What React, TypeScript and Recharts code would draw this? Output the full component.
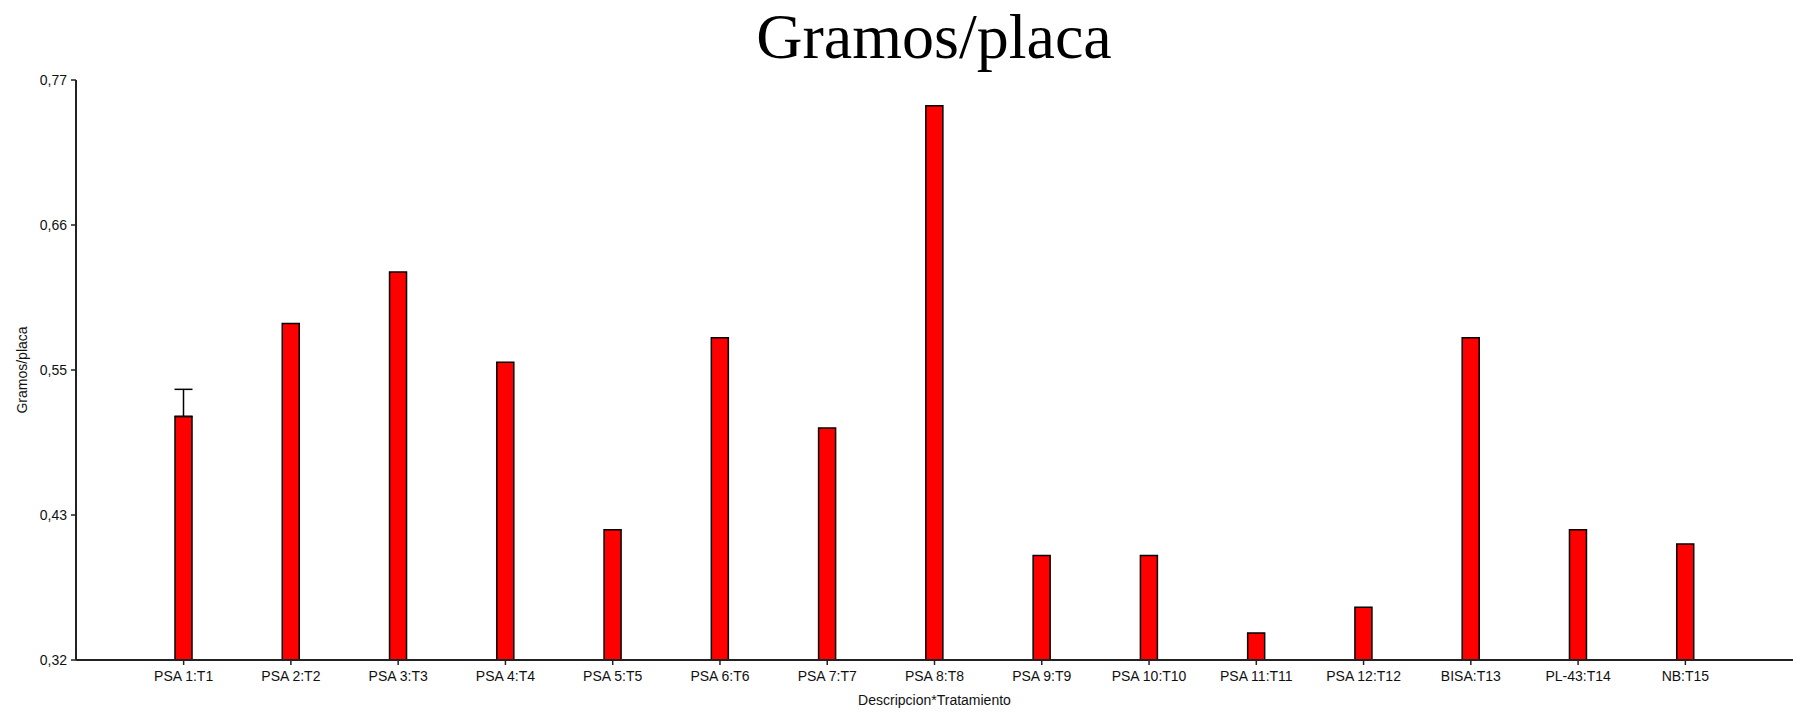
import React from 'react'
import { BarChart, Bar, XAxis, YAxis, ErrorBar } from 'recharts'

const categories = [
  'PSA 1:T1', 'PSA 2:T2', 'PSA 3:T3', 'PSA 4:T4', 'PSA 5:T5', 'PSA 6:T6', 'PSA 7:T7', 'PSA 8:T8',
  'PSA 9:T9', 'PSA 10:T10', 'PSA 11:T11', 'PSA 12:T12', 'BISA:T13', 'PL-43:T14', 'NB:T15',
]
const gramos = [0.509, 0.581, 0.621, 0.551, 0.421, 0.570, 0.500, 0.750, 0.401, 0.401, 0.341, 0.361, 0.570, 0.421, 0.410]
// only T1 has an error bar, drawn upward only
const errUp = [0.021, null, null, null, null, null, null, null, null, null, null, null, null, null, null]

const yTicks = [0.32, 0.4325, 0.545, 0.6575, 0.77]
const yTickLabels = ['0,32', '0,43', '0,55', '0,66', '0,77']

const data = categories.map((name, i) => ({
  name,
  value: gramos[i],
  err: errUp[i] == null ? null : [0, errUp[i]],
}))

const sans = 'Arial, "Liberation Sans", sans-serif'

export default function App() {
  return (
    <div style={{ position: 'relative', width: 1802, height: 714, background: '#fff' }}>
      <style>{'body{margin:0}'}</style>
      <svg width={1802} height={80} style={{ position: 'absolute', left: 0, top: 0 }}>
        <text x={934} y={58} textAnchor="middle" fontFamily='"Times New Roman", "Liberation Serif", serif' fontSize={64} fill="#000">
          Gramos/placa
        </text>
      </svg>
      <BarChart width={1802} height={714} data={data} margin={{ top: 80, right: 9, bottom: 0, left: 0 }}>
        <XAxis
          dataKey="name"
          height={54}
          padding={{ left: 54, right: 54 }}
          interval={0}
          axisLine={{ stroke: '#222', strokeWidth: 2 }}
          tickLine={{ stroke: '#222', strokeWidth: 1.5 }}
          tickSize={5}
          tickMargin={6}
          tick={{ fontSize: 14, fill: '#111', fontFamily: sans }}
          label={{ value: 'Descripcion*Tratamiento', position: 'insideBottom', offset: 9, fontSize: 14, fill: '#111', fontFamily: sans }}
        />
        <YAxis
          width={76}
          type="number"
          domain={[0.32, 0.77]}
          ticks={yTicks}
          interval={0}
          tickFormatter={(_v: number, i: number) => yTickLabels[i]}
          axisLine={{ stroke: '#222', strokeWidth: 2 }}
          tickLine={{ stroke: '#222', strokeWidth: 1.5 }}
          tickSize={5}
          tickMargin={4}
          tick={{ fontSize: 14, fill: '#111', fontFamily: sans }}
          label={{ value: 'Gramos/placa', angle: -90, position: 'center', dx: -16, fontSize: 14, fill: '#111', fontFamily: sans }}
        />
        <Bar dataKey="value" fill="#ff0000" stroke="#000" strokeWidth={1.5} barSize={17} isAnimationActive={false}>
          <ErrorBar dataKey="err" direction="y" width={9} stroke="#000" strokeWidth={1.5} isAnimationActive={false} />
        </Bar>
      </BarChart>
    </div>
  )
}
